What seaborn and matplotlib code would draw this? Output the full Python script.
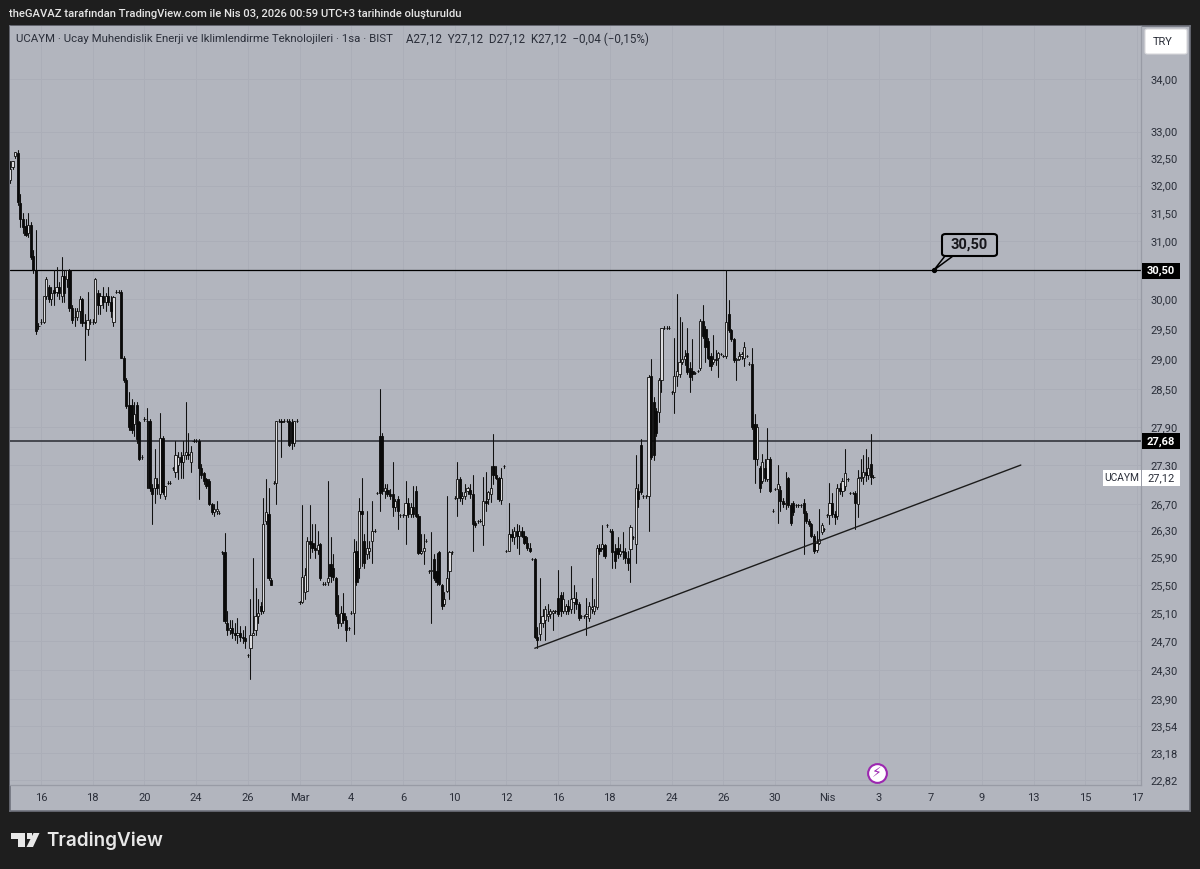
import numpy as np
import pandas as pd
import matplotlib
matplotlib.use("Agg")
import matplotlib.pyplot as plt
from matplotlib.patches import Polygon, FancyBboxPatch, Rectangle
from matplotlib.ticker import FuncFormatter, FixedLocator, NullLocator
import seaborn as sns

# saatlik mumlar, her satir bir islem gunu (10 bar)
opens = [
    32.10,32.35,32.55,32.60,31.68,31.40,31.28,31.15,31.30,30.75,
    30.50,29.55,29.62,29.62,30.05,30.20,30.00,30.15,30.12,30.20,
    30.05,30.40,30.35,30.50,29.85,29.70,29.70,29.80,30.00,29.62,
    29.50,29.62,29.62,29.62,30.10,29.90,30.05,29.95,30.05,29.95,
    29.62,30.12,30.13,30.13,29.02,28.65,28.25,28.25,27.95,28.25,
    27.98,27.42,28.02,28.00,28.00,26.95,26.95,27.00,26.85,27.72,
    26.82,27.03,27.03,27.25,27.20,27.30,27.42,27.35,27.45,27.48,
    27.35,27.68,27.68,27.68,27.25,27.18,27.08,27.05,26.70,26.58,
    26.60,26.57,25.98,25.98,24.95,24.85,24.88,24.82,24.78,24.82,
    24.76,24.74,24.50,24.60,24.78,24.85,25.05,25.20,25.12,26.45,
    26.55,25.58,27.03,27.03,28.00,28.00,28.00,28.00,28.00,27.98,
    27.65,28.00,25.25,25.25,25.40,25.42,26.15,26.12,26.05,26.02,
    26.10,25.52,25.52,25.55,25.80,25.75,25.60,25.08,24.96,25.10,
    25.00,24.88,25.10,25.10,26.00,25.75,26.60,26.15,25.95,26.00,
    26.15,26.30,26.87,27.75,27.75,26.90,26.92,26.85,26.85,26.65,
    26.78,26.53,26.53,26.53,26.72,26.55,26.65,26.90,26.52,25.97,
    26.00,26.15,25.70,25.70,25.88,25.70,25.98,25.50,25.22,25.42,
    25.70,25.98,26.80,26.80,27.08,26.80,26.82,26.90,26.92,26.85,
    26.42,26.44,26.45,26.38,26.75,26.78,26.85,27.28,27.15,27.10,
    26.76,27.28,26.00,26.00,26.25,26.20,26.30,26.22,26.30,26.22,
    26.12,26.05,25.88,25.88,24.76,24.80,24.95,25.00,25.05,25.08,
    25.10,25.12,25.32,25.35,25.12,25.12,25.20,25.15,25.25,25.30,
    25.22,25.05,25.05,25.05,25.02,25.15,25.12,25.18,26.05,26.05,
    26.08,26.38,26.30,26.30,26.00,26.05,25.95,26.00,25.98,25.90,
    26.03,26.20,26.10,26.90,27.62,26.82,26.82,26.82,28.72,28.30,
    28.15,28.13,28.65,29.52,29.52,29.52,28.45,28.45,28.72,28.75,
    28.95,29.00,29.10,28.85,28.80,28.77,28.80,28.85,29.63,29.50,
    29.30,29.05,28.95,29.00,29.02,29.08,29.05,29.05,29.75,29.48,
    29.32,28.98,29.00,29.05,29.02,29.05,28.92,28.92,27.95,27.40,
    27.25,27.05,27.25,27.08,27.40,26.60,26.93,26.93,26.92,26.75,
    26.70,27.10,26.68,26.72,26.68,26.68,26.68,26.72,26.57,26.45,
    26.40,26.22,26.02,26.12,26.28,26.32,26.53,26.53,26.72,26.55,
    26.52,26.95,26.90,26.98,27.08,26.87,26.87,26.87,26.70,27.10,
    27.12,27.20,27.15,27.32,27.12,
]
highs = [
    32.45,32.45,32.62,32.66,31.85,31.50,31.40,31.50,31.35,30.85,
    31.20,29.60,29.67,30.06,30.38,30.25,30.20,30.50,30.55,30.30,
    30.72,30.50,30.50,30.52,29.90,29.85,29.85,30.05,30.02,29.75,
    30.12,29.66,29.67,30.36,30.15,30.10,30.20,30.10,30.20,30.05,
    30.05,30.15,30.15,30.15,29.05,28.68,28.45,28.35,28.30,28.30,
    28.00,27.45,28.05,28.20,28.02,27.00,27.55,27.10,28.12,27.75,
    26.98,27.05,27.05,27.27,27.68,27.50,27.50,27.68,28.30,27.80,
    27.60,27.70,27.70,27.70,27.32,27.20,27.10,27.08,26.72,26.70,
    26.75,26.59,26.00,26.27,25.12,25.00,25.00,24.95,25.02,24.92,
    24.85,24.92,24.52,25.30,25.90,25.45,25.30,25.25,26.80,27.08,
    26.95,25.60,27.05,28.00,28.02,28.02,28.02,28.02,28.02,28.02,
    28.00,28.02,25.27,26.68,25.75,26.20,26.68,26.40,26.40,26.30,
    26.12,25.55,25.55,27.05,26.20,25.95,25.62,25.35,25.20,25.38,
    25.05,24.90,25.12,26.18,26.15,26.80,27.10,26.25,26.60,26.15,
    26.75,26.32,26.89,28.50,27.80,27.00,27.00,26.93,27.35,26.78,
    26.82,26.55,26.55,27.05,26.80,26.72,26.98,26.98,26.55,26.25,
    26.25,26.17,25.72,26.28,25.95,25.97,26.00,25.52,25.40,26.82,
    26.00,26.00,26.82,27.35,27.12,26.88,27.00,26.96,27.00,27.15,
    26.45,26.46,26.47,27.12,27.20,26.90,27.28,27.78,27.28,27.12,
    27.25,27.30,26.02,26.72,26.33,26.35,26.40,26.38,26.35,26.30,
    26.20,26.12,25.90,25.90,24.90,25.60,25.15,25.20,25.22,25.15,
    25.14,25.14,25.72,25.40,25.40,25.22,25.28,25.78,25.50,25.40,
    25.25,25.07,25.07,25.32,25.25,25.60,25.30,26.08,26.10,26.38,
    26.10,26.40,26.32,26.32,26.10,26.20,26.10,26.28,26.05,26.00,
    26.38,26.22,27.45,27.00,27.70,26.84,26.84,28.73,29.00,28.38,
    28.20,28.68,29.52,29.54,29.54,29.54,28.47,29.35,30.08,29.70,
    29.62,29.15,29.52,28.95,29.33,28.79,28.82,29.67,29.90,29.55,
    29.35,29.10,29.40,29.15,29.12,29.10,29.07,30.50,29.98,29.50,
    29.35,29.02,29.12,29.12,29.28,29.07,28.94,29.18,28.10,27.95,
    27.28,27.48,27.40,27.88,27.42,26.62,26.95,27.30,26.98,26.80,
    27.20,27.12,26.72,26.75,26.70,26.70,26.70,26.78,26.60,26.48,
    26.42,26.25,26.30,26.63,26.42,26.34,26.55,27.03,26.87,26.60,
    27.00,27.03,27.10,27.55,27.10,26.89,26.89,26.90,27.22,27.40,
    27.45,27.55,27.42,27.78,27.14,
]
lows = [
    32.05,32.30,32.50,31.65,31.25,31.15,31.10,31.08,30.70,30.45,
    29.42,29.50,29.58,29.60,30.00,29.95,29.90,29.90,30.05,30.00,
    29.95,29.95,30.20,29.80,29.60,29.55,29.65,29.60,29.55,28.98,
    29.40,29.58,29.58,29.60,29.75,29.75,29.85,29.80,29.90,29.70,
    29.55,30.10,30.11,29.02,28.62,28.20,27.85,27.80,27.75,27.65,
    27.38,27.40,28.00,26.95,26.90,26.40,26.72,26.85,26.80,26.85,
    26.78,27.00,27.00,27.22,27.12,27.08,27.10,27.10,27.40,27.40,
    27.20,27.66,27.66,26.78,27.10,27.00,26.95,26.68,26.55,26.52,
    26.55,26.55,25.96,24.95,24.78,24.80,24.74,24.72,24.68,24.70,
    24.68,24.60,24.48,24.18,24.78,24.78,24.95,25.08,25.10,26.40,
    25.58,25.50,27.01,26.70,27.98,27.42,27.98,27.98,27.60,27.55,
    27.60,27.98,25.23,25.24,25.30,25.42,25.90,25.98,25.90,25.95,
    25.58,25.50,25.50,25.50,25.55,25.58,25.05,24.88,24.92,24.95,
    24.70,24.86,25.08,24.80,25.50,25.60,25.78,25.75,25.88,25.90,
    25.82,26.28,26.85,26.60,26.85,26.80,26.82,26.78,26.52,26.60,
    26.33,26.51,26.51,26.10,26.50,26.50,26.50,26.50,25.95,25.95,
    25.80,26.13,25.68,24.95,25.58,25.50,25.50,25.15,25.20,25.40,
    25.30,25.96,26.78,26.52,26.75,26.70,26.78,26.85,26.80,26.00,
    26.36,26.42,26.43,26.08,26.60,26.70,26.74,27.00,27.08,26.75,
    26.70,27.26,25.98,26.00,26.15,26.10,26.05,25.95,26.20,26.10,
    26.02,25.98,25.86,24.74,24.60,24.72,24.90,24.72,24.98,25.02,
    24.85,25.10,25.05,25.05,25.10,25.08,25.08,25.10,25.10,25.15,
    25.00,25.03,25.03,24.78,24.98,25.10,25.08,25.15,25.95,26.03,
    25.90,26.36,26.28,25.75,25.75,25.90,25.92,25.88,25.82,25.72,
    25.55,26.18,25.82,26.65,26.85,26.80,26.80,26.30,27.40,27.38,
    27.75,27.98,28.45,29.50,29.50,29.50,28.43,28.12,28.55,28.70,
    28.92,28.90,28.75,28.45,28.65,28.75,28.78,28.82,29.35,28.95,
    29.00,28.82,28.92,28.90,28.70,29.06,29.03,29.02,29.45,29.30,
    28.95,28.65,28.98,29.00,28.88,29.03,28.90,27.87,27.02,27.30,
    26.88,27.02,27.05,27.05,26.88,26.58,26.91,26.42,26.60,26.65,
    26.62,26.65,26.38,26.53,26.66,26.66,26.66,25.95,26.42,26.37,
    26.20,25.97,25.98,26.10,26.25,26.30,26.51,26.40,26.50,26.40,
    26.48,26.85,26.83,26.92,27.06,26.85,26.85,26.33,26.50,27.05,
    27.00,27.05,27.08,27.00,27.10,
]
closes = [
    32.30,32.45,32.62,31.70,31.40,31.25,31.12,31.30,30.72,30.50,
    29.46,29.55,29.62,30.05,30.35,30.00,30.10,30.10,30.20,30.10,
    30.40,30.10,30.50,29.85,29.65,29.70,29.80,30.00,29.60,29.60,
    29.65,29.62,29.62,30.35,29.90,30.05,29.95,30.05,29.95,29.80,
    30.03,30.12,30.13,29.02,28.65,28.23,27.90,27.85,28.10,27.70,
    27.40,27.42,28.02,28.00,26.95,26.85,27.10,26.95,27.72,26.88,
    26.97,27.03,27.03,27.25,27.45,27.42,27.35,27.45,27.50,27.45,
    27.50,27.68,27.68,27.25,27.15,27.05,26.98,26.70,26.58,26.62,
    26.62,26.57,25.98,24.98,24.85,24.88,24.82,24.78,24.82,24.76,
    24.74,24.70,24.50,24.78,24.82,25.05,25.10,25.12,26.40,26.58,
    25.60,25.50,27.03,28.00,28.00,27.98,28.00,28.00,27.62,27.65,
    28.00,28.00,25.25,25.62,25.65,26.15,26.10,26.05,26.02,26.08,
    25.60,25.52,25.52,25.60,25.63,25.62,25.08,24.95,25.10,25.00,
    24.85,24.88,25.10,25.98,25.55,26.60,26.55,25.82,26.05,26.05,
    26.30,26.30,26.87,26.87,26.90,26.95,26.85,26.82,26.65,26.75,
    26.60,26.53,26.53,26.72,26.55,26.65,26.55,26.52,25.97,26.00,
    26.05,26.15,25.70,25.72,25.60,25.55,25.52,25.20,25.30,25.60,
    25.98,25.98,26.80,27.08,26.80,26.82,26.88,26.95,26.85,26.40,
    26.38,26.44,26.45,26.75,26.72,26.88,26.95,27.15,27.10,26.78,
    27.10,27.28,26.00,26.25,26.20,26.30,26.22,26.30,26.22,26.12,
    26.05,26.00,25.88,24.76,24.72,24.95,25.05,25.15,25.08,25.12,
    25.12,25.12,25.08,25.12,25.30,25.20,25.12,25.30,25.32,25.22,
    25.02,25.05,25.05,25.08,25.20,25.18,25.20,26.05,26.00,26.10,
    25.92,26.38,26.30,25.98,25.85,25.95,26.00,25.98,25.90,25.82,
    26.35,26.20,26.95,26.78,26.88,26.82,26.82,28.70,27.42,27.45,
    27.80,28.65,29.52,29.52,29.52,29.52,28.45,28.72,28.80,28.95,
    29.00,29.05,28.78,28.70,28.75,28.77,28.80,29.63,29.38,29.20,
    29.02,28.88,29.00,28.98,29.10,29.08,29.05,29.62,29.48,29.32,
    28.98,29.00,29.05,29.08,29.20,29.05,28.92,27.90,27.40,27.90,
    26.95,27.35,27.10,27.40,26.90,26.60,26.93,27.00,26.75,26.70,
    26.72,26.68,26.42,26.58,26.68,26.68,26.68,26.57,26.45,26.40,
    26.22,26.00,26.12,26.18,26.38,26.32,26.53,26.72,26.55,26.50,
    26.95,26.90,27.05,27.18,27.08,26.87,26.87,26.72,27.10,27.12,
    27.20,27.15,27.25,27.12,27.12,
]

price_ticks = [34.00, 33.00, 32.50, 32.00, 31.50, 31.00, 30.00, 29.50, 29.00, 28.50, 27.90,
               27.30, 26.70, 26.30, 25.90, 25.50, 25.10, 24.70, 24.30, 23.90, 23.54, 23.18, 22.82]
date_ticks = [12, 32, 52, 72, 92, 112, 132, 152, 172, 192, 212, 232,
              256, 276, 296, 316, 336, 356, 376, 396, 416, 436]
date_labels = ["16", "18", "20", "24", "26", "Mar", "4", "6", "10", "12", "16", "18",
               "24", "26", "30", "Nis", "3", "7", "9", "13", "15", "17"]
level_high = 30.50
level_mid = 27.68
trend_bars = [203, 391]
trend_prices = [24.60, 27.30]

W, H = 1200, 869
DARK = "#1e1e1e"
PANEL = "#b2b5be"
GRID = "#abaeb8"
TEXT = "#2a2e39"

sns.set_theme(style="white")
plt.rcParams["font.family"] = ["Roboto", "DejaVu Sans"]


def fx(x):
    return x / W


def fy(y):
    return 1 - y / H


fig = plt.figure(figsize=(W / 100, H / 100), dpi=100, facecolor=DARK)

# panel + eksen seridi
bg = fig.add_axes([fx(10), fy(811), fx(1180), (811 - 26) / H], facecolor=PANEL)
bg.set_xticks([])
bg.set_yticks([])
for s in bg.spines.values():
    s.set_color("#6f727c")
    s.set_linewidth(1.2)

ax = fig.add_axes([fx(10), fy(785), fx(1131), (785 - 26) / H], facecolor=PANEL)
ax.set_yscale("log")
ax.set_ylim(22.76, 35.04)
ax.set_xlim(0, 437.5)
ax.yaxis.set_major_locator(FixedLocator(price_ticks))
ax.yaxis.set_minor_locator(NullLocator())
ax.yaxis.set_major_formatter(FuncFormatter(lambda v, p: f"{v:.2f}".replace(".", ",")))
ax.yaxis.tick_right()
ax.set_xticks(date_ticks)
ax.set_xticklabels(date_labels)
ax.tick_params(axis="y", length=0, pad=6.5, labelsize=8.0, colors=TEXT)
ax.tick_params(axis="x", length=0, pad=5.5, labelsize=8.0, colors=TEXT)
ax.grid(True, color=GRID, lw=0.7)
ax.set_axisbelow(True)
for name, s in ax.spines.items():
    s.set_visible(name in ("right", "bottom"))
    s.set_color("#989ba5")
    s.set_linewidth(0.9)

bars = np.arange(len(opens))
df = pd.DataFrame({"bar": bars, "open": opens, "high": highs, "low": lows, "close": closes})
wicks = df.melt(id_vars="bar", value_vars=["high", "low"], value_name="price")

ax.axhline(level_high, color="#000000", lw=0.9, zorder=2)
ax.axhline(level_mid, color="#33353d", lw=1.2, zorder=2)

sns.lineplot(data=wicks, x="bar", y="price", units="bar", estimator=None, sort=False,
             color="#111111", lw=0.75, legend=False, ax=ax, zorder=3)

# gövdeler: yukselen beyaz, dusen siyah
rising = df[df["close"] >= df["open"]]
falling = df[df["close"] < df["open"]]
ax.bar(rising["bar"], rising["close"] - rising["open"], bottom=rising["open"], width=0.85,
       color="#dcdcdf", edgecolor="#111111", linewidth=0.6, zorder=4)
ax.bar(falling["bar"], falling["open"] - falling["close"], bottom=falling["close"], width=0.85,
       color="#0a0a0a", edgecolor="#0a0a0a", linewidth=0.6, zorder=4)

# trend cizgisi
sns.lineplot(x=trend_bars, y=trend_prices, color="#1c1c1c", lw=1.0, ax=ax, legend=False, zorder=5)
ax.set_xlabel("")
ax.set_ylabel("")

# 30,50 notu
note_bar = 357.4
ax.plot([note_bar], [level_high], "o", ms=2.8, color="black", zorder=6)
tail = [(934, 270), (945, 256), (953, 256)]
fig.patches.append(Polygon([(fx(x), fy(y)) for x, y in tail], closed=True, transform=fig.transFigure,
                           fc=PANEL, ec="black", lw=1.1, zorder=9, figure=fig))
fig.patches.append(FancyBboxPatch((fx(942), fy(256)), fx(55), 22 / H, transform=fig.transFigure,
                                  boxstyle="round,pad=0,rounding_size=0.003",
                                  fc=PANEL, ec="black", lw=1.5, zorder=10, figure=fig))
fig.text(fx(969.5), fy(244.5), "30,50", ha="center", va="center", fontsize=10.5, fontweight="bold",
         color="#17171b", zorder=11)


def price_label(y, txt, fc="black", col="white", weight="bold"):
    fig.patches.append(Rectangle((fx(1142), fy(y + 8)), fx(38), 16 / H, transform=fig.transFigure,
                                 fc=fc, ec="none", zorder=8, figure=fig))
    fig.text(fx(1161), fy(y), txt, ha="center", va="center", fontsize=8.0, color=col,
             fontweight=weight, zorder=9)


price_label(270.5, "30,50")
price_label(441.5, "27,68")
price_label(478, "27,12", fc="white", col=TEXT, weight="normal")
fig.patches.append(Rectangle((fx(1103), fy(486)), fx(38), 16 / H, transform=fig.transFigure,
                             fc="white", ec="none", zorder=8, figure=fig))
fig.text(fx(1122), fy(478), "UCAYM", ha="center", va="center", fontsize=7.4, color=TEXT, zorder=9)

# TRY dugmesi
fig.patches.append(FancyBboxPatch((fx(1145), fy(54)), fx(42), 25 / H, transform=fig.transFigure,
                                  boxstyle="round,pad=0,rounding_size=0.002",
                                  fc="white", ec="#d8d8dc", lw=0.8, zorder=8, figure=fig))
fig.text(fx(1163), fy(42), "TRY", ha="center", va="center", fontsize=8.0, color=TEXT, zorder=9)

# yazilar
fig.text(fx(9), fy(14), "theGAVAZ tarafından TradingView.com ile Nis 03, 2026 00:59 UTC+3 tarihinde oluşturuldu",
         ha="left", va="center", fontsize=8.1, fontweight="medium", color="#e6e6e6")
fig.text(fx(16), fy(39), "UCAYM · Ucay Muhendislik Enerji ve Iklimlendirme Teknolojileri · 1sa · BIST",
         ha="left", va="center", fontsize=8.2, color=TEXT)
fig.text(fx(406), fy(39), "A27,12  Y27,12  D27,12  K27,12  −0,04 (−0,15%)",
         ha="left", va="center", fontsize=8.4, color=TEXT)

# bildirim simgesi
cx, cy = 877, 773
ax.plot([(cx - 10) / (1131 / 437.5)], [22.76 * np.exp((785 - cy) / 1761)], "o", ms=13.5, mfc="white",
        mec="#9c27b0", mew=1.5, zorder=7, clip_on=False)
fig.text(fx(cx), fy(cy), "⚡", ha="center", va="center", fontsize=10, color="#9c27b0",
         family="DejaVu Sans", zorder=12)

# TradingView logosu
LOGO = "#e8e8e8"
logo_t = [(11, 833), (25, 833), (25, 847), (18, 847), (18, 839), (11, 839)]
logo_v = [(33.5, 833), (39.5, 833), (33, 847), (26.5, 847)]
for pts in (logo_t, logo_v):
    fig.patches.append(Polygon([(fx(x), fy(y)) for x, y in pts], closed=True, transform=fig.transFigure,
                               fc=LOGO, ec="none", figure=fig))
fig.patches.append(Rectangle((fx(27), fy(838.5)), 5 / W, 5.5 / H, transform=fig.transFigure,
                             fc=LOGO, ec="none", figure=fig))
fig.text(fx(46), fy(841), "TradingView", ha="left", va="center", fontsize=13.6, fontweight="semibold",
         color=LOGO, family="Inter")

fig.savefig("out.png", dpi=100, facecolor=DARK)
